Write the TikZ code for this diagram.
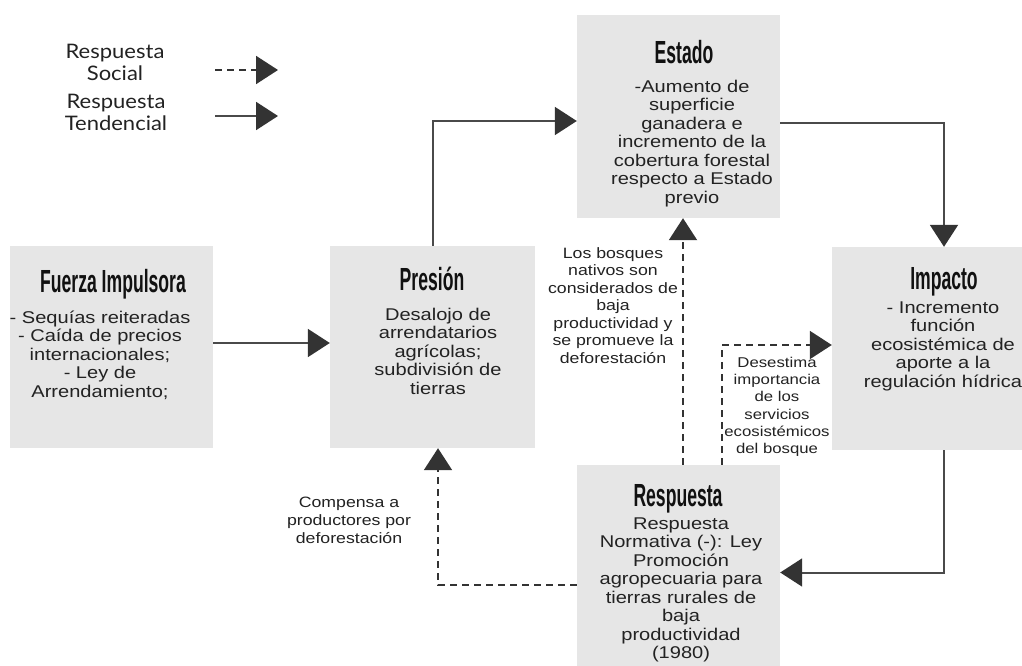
\documentclass[tikz,border=0pt]{standalone}
\usepackage{fontspec}
\setmainfont{Liberation Sans}[FakeStretch=1.18]
\newfontfamily\titlefont{Liberation Sans}[FakeStretch=0.55]
\newfontfamily\legfont{Lato}[FakeStretch=1.1]
\usetikzlibrary{arrows.meta,calc}
\definecolor{boxgray}{HTML}{E6E6E6}
\definecolor{linegray}{HTML}{4A4A4A}
\definecolor{headgray}{HTML}{333333}
\definecolor{txt}{HTML}{222222}
\definecolor{ttl}{HTML}{111111}
\tikzset{
  box/.style={fill=boxgray, draw=none, inner sep=0pt},
  ttlnode/.style={anchor=base, inner sep=0pt, text=ttl, font=\titlefont\bfseries\fontsize{32}{33}\selectfont},
  bodynode/.style={anchor=north, inner sep=0pt, align=center, text=txt, font=\fontsize{17}{18.5}\selectfont},
  lblnode/.style={anchor=north, inner sep=0pt, align=center, text=txt, font=\fontsize{15}{17.5}\selectfont},
  legnode/.style={anchor=north, inner sep=0pt, align=center, text=txt, font=\legfont\fontsize{20}{22.5}\selectfont},
  conn/.style={draw=linegray, line width=2pt, -{Triangle[length=22pt,width=28pt,fill=headgray,color=headgray]}},
  dconn/.style={conn, draw=headgray, dash pattern=on 7pt off 5pt},
}
\begin{document}
\begin{tikzpicture}[x=1pt,y=-1pt]
\useasboundingbox (0,0) rectangle (1022,666);
\clip (0,0) rectangle (1022,666);
\fill[white] (0,0) rectangle (1022,666);

% boxes
\node[box, minimum width=203pt, minimum height=202pt] (F) at (111.5,347) {};
\node[box, minimum width=205pt, minimum height=202pt] (P) at (432.5,347) {};
\node[box, minimum width=203pt, minimum height=203pt] (E) at (678.5,116.5) {};
\node[box, minimum width=224pt, minimum height=203pt] (I) at (944,348.5) {};
\node[box, minimum width=203pt, minimum height=205pt] (R) at (678.5,567.5) {};

% titles
\node[ttlnode] (Ft) at (113,292) {Fuerza Impulsora};
\node[ttlnode] (Pt) at (432,290) {Presión};
\node[ttlnode] (Et) at (684,64) {Estado};
\node[ttlnode] (It) at (944,289) {Impacto};
\node[ttlnode] (Rt) at (678,506) {Respuesta};

% bodies (first baseline = y + 15)
\node[bodynode] (Fb) at (100,308) {\rule{0pt}{15pt}- Sequías reiteradas\\- Caída de precios\\internacionales;\\- Ley de\\Arrendamiento;};
\node[bodynode] (Pb) at (438,305) {\rule{0pt}{15pt}Desalojo de\\arrendatarios\\agrícolas;\\subdivisión de\\tierras};
\node[bodynode] (Eb) at (692,77) {\rule{0pt}{15pt}-Aumento de\\superficie\\ganadera e\\incremento de la\\cobertura forestal\\respecto a Estado\\previo};
\node[bodynode] (Ib) at (943,298) {\rule{0pt}{15pt}- Incremento\\función\\ecosistémica de\\aporte a la\\regulación hídrica};
\node[bodynode] (Rb) at (681,514) {\rule{0pt}{15pt}Respuesta\\Normativa (-): Ley\\Promoción\\agropecuaria para\\tierras rurales de\\baja\\productividad\\(1980)};

% connectors
\draw[conn] ([yshift=4pt]F.east) -- ([yshift=4pt]P.west);
\draw[conn] (P.north) |- ([yshift=-4.5pt]E.west);
\draw[conn] ([yshift=-6.5pt]E.east) -| (I.north);
\draw[conn] (I.south) |- ([yshift=-5pt]R.east);
\draw[dconn] ([yshift=-17.5pt]R.west) -| ([xshift=5.5pt]P.south);
\draw[dconn] ([xshift=4.5pt]R.north) -- ([xshift=4.5pt]E.south);
\draw[dconn] ([xshift=43.5pt]R.north) |- ([yshift=3.5pt]I.west);

% labels
\node[lblnode] (L1) at (613,246) {\rule{0pt}{12pt}Los bosques\\nativos son\\considerados de\\baja\\productividad y\\se promueve la\\deforestación};
\node[lblnode, font=\fontsize{14.2}{17.3}\selectfont] (L2) at (777,355) {\rule{0pt}{12pt}Desestima\\importancia\\de los\\servicios\\ecosistémicos\\del bosque};
\node[lblnode, font=\fontsize{15}{18}\selectfont] (L3) at (349,495) {\rule{0pt}{12pt}Compensa a\\productores por\\deforestación};

% legend
\node[legnode] (Ls) at (115,43) {\rule{0pt}{15pt}Respuesta\\Social};
\node[legnode] (Lt) at (116,93) {\rule{0pt}{15pt}Respuesta\\Tendencial};
\coordinate (ls1) at (215,70);
\coordinate (le1) at (278,70);
\coordinate (ls2) at (215,116);
\coordinate (le2) at (278,116);
\draw[dconn] (ls1) -- (le1);
\draw[conn] (ls2) -- (le2);
\end{tikzpicture}
\end{document}
